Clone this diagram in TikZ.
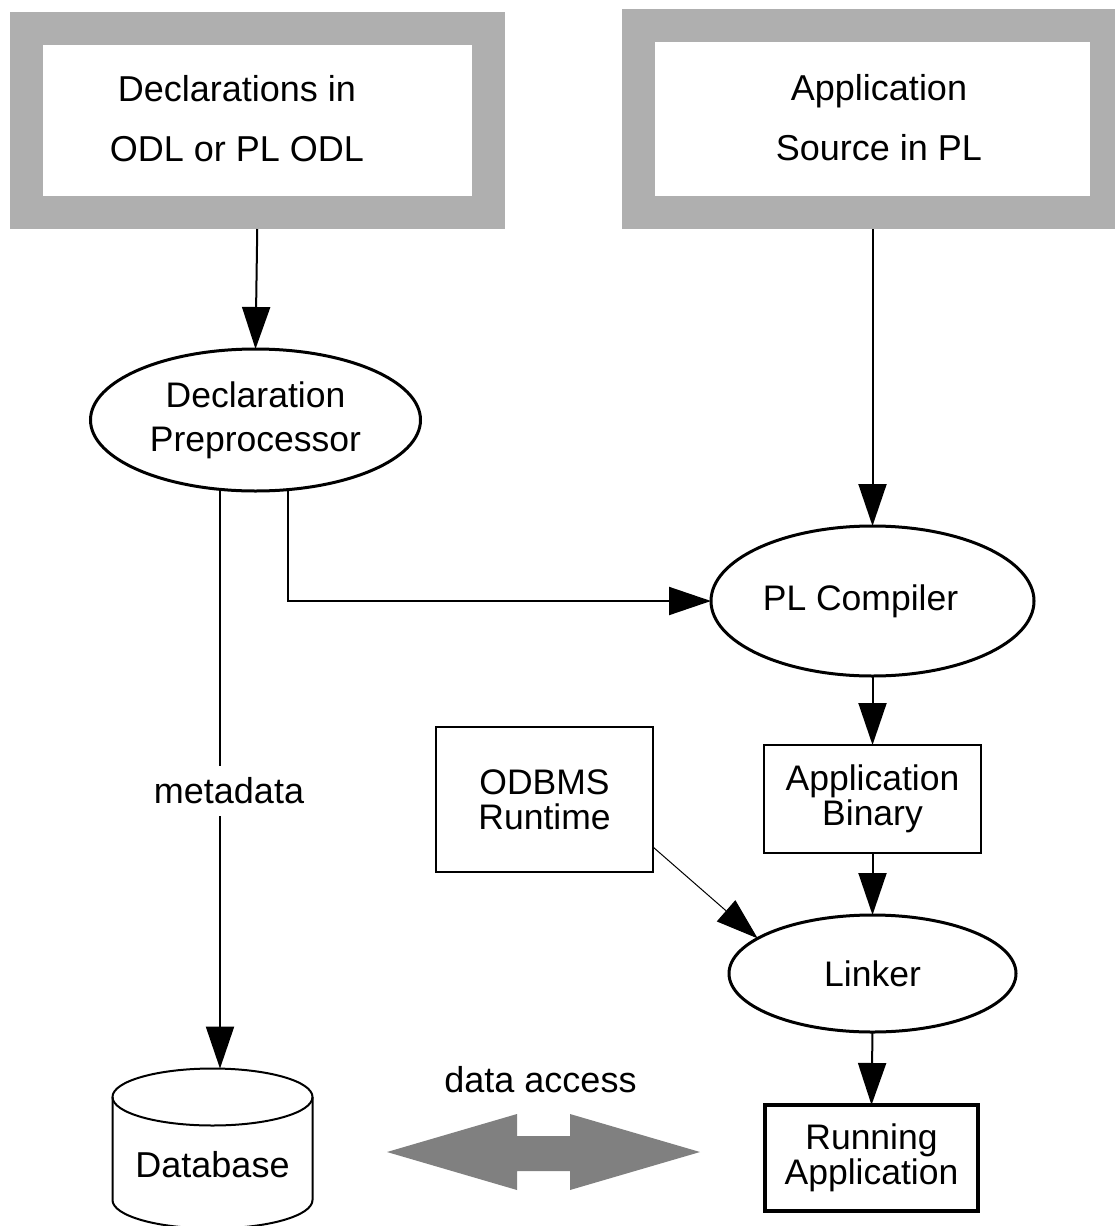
\documentclass[tikz,border=0pt]{standalone}
\usepackage{fontspec}
\setmainfont{Liberation Sans}
\usetikzlibrary{shapes.geometric,arrows.meta,calc}
\definecolor{framegrey}{HTML}{AFAFAF}
\definecolor{flowgrey}{HTML}{808080}

\begin{document}
\begin{tikzpicture}[x=1pt,y=-1pt,
  every node/.style={inner sep=0pt, outer sep=0pt},
  srcframe/.style={rectangle, draw=framegrey, line width=33pt, fill=white, outer sep=16.5pt},
  srctext/.style={font=\fontsize{36}{60}\selectfont, align=center},
  procoval/.style={ellipse, draw, line width=3pt, font=\fontsize{35.5}{44}\selectfont, align=center},
  plainbox/.style={rectangle, draw, line width=2pt, font=\fontsize{35.5}{35}\selectfont, align=center},
  plaintext/.style={font=\fontsize{36}{40}\selectfont},
  conn/.style={line width=2pt, -{Triangle[length=42pt,width=28pt]}},
  thinconn/.style={line width=1pt, -{Triangle[length=42pt,width=28pt]}},
  ]
\useasboundingbox (0,0) rectangle (1115,1226);
\clip (0,0) rectangle (1115,1226);
\fill[white] (0,0) rectangle (1115,1226);

% source inputs
\node[srcframe, minimum width=462.5pt, minimum height=184.5pt] (srcL) at (257.25,120.25) {};
\node[srctext] (srcLtext) at (237,119) {Declarations in\\ODL or PL ODL};
\node[srcframe, minimum width=468pt, minimum height=187.5pt] (srcR) at (872.5,118.75) {};
\node[srctext] (srcRtext) at (879,118) {Application\\Source in PL};

% processing steps
\node[procoval, minimum width=330pt, minimum height=142pt] (decl) at (255.5,420) {Declaration\\Preprocessor};
\node[procoval, minimum width=323pt, minimum height=150pt] (plc) at (872.5,601) {PL Compiler\hspace*{24pt}};
\node[procoval, minimum width=287pt, minimum height=117pt] (linker) at (872.5,973.5) {Linker};

% intermediate products
\node[plainbox, minimum width=217pt, minimum height=108pt] (bin) at (872.5,799) {Application\\Binary};
\node[plainbox, minimum width=217pt, minimum height=145pt] (odbms) at (544.5,799.5) {ODBMS\\Runtime};
\node[plainbox, line width=4pt, minimum width=213pt, minimum height=106pt] (run) at (871.5,1158) {Running\\Application};

% database cylinder
\draw[line width=2pt] (212.5,1097) ellipse [x radius=100pt, y radius=28.5pt];
\draw[line width=2pt] (112.5,1097) -- (112.5,1200)
  arc[start angle=180, end angle=360, x radius=100pt, y radius=28.5pt] -- (312.5,1097);
\node[plaintext, anchor=base] (db) at (212.5,1177) {Database};
\coordinate (dbtop) at (220,1068.6);

% connectors
\draw[conn] (srcL.south) -- (decl.north);
\draw[conn] (srcR.south) -- (plc.north);
\draw[conn] ([xshift=32.5pt]decl.south) |- (plc.west);
\draw[conn] ([xshift=-35.5pt]decl.south) --
  node[pos=0.519, xshift=9pt, plaintext, fill=white, inner xsep=4pt, inner ysep=12pt] (meta) {metadata} (dbtop);
\draw[conn] (plc.south) -- (bin.north);
\draw[conn] (bin.south) -- (linker.north);
\draw[thinconn] ([yshift=25pt]odbms.south east) -- (linker.163.6);
\draw[conn] (linker.south) -- (run.north);

% data access between database and application
\fill[flowgrey] (387,1152) -- (517,1114) -- (517,1136) -- (570,1136) -- (570,1114)
  -- (700,1152) -- (570,1190) -- (570,1171) -- (517,1171) -- (517,1190) -- cycle;
\node[plaintext, anchor=base] (access) at (540.5,1092) {data access};
\end{tikzpicture}
\end{document}
